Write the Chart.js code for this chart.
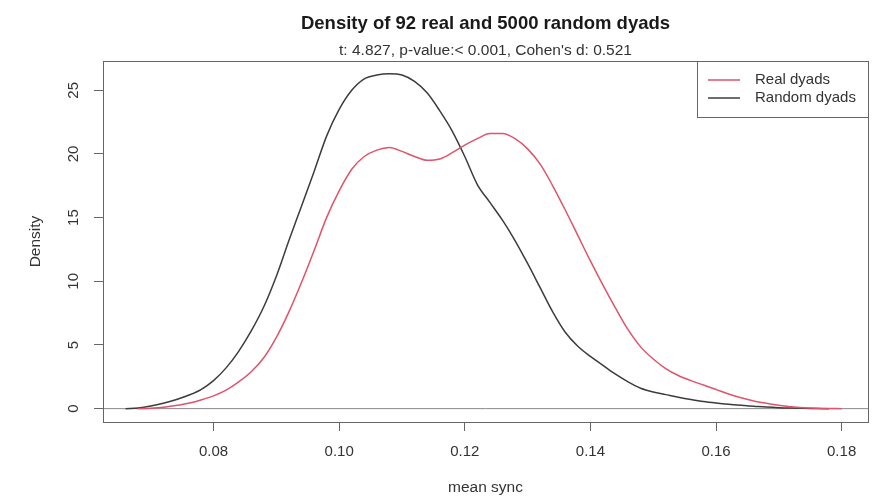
<!DOCTYPE html>
<html>
<head>
<meta charset="utf-8">
<title>Density of 92 real and 5000 random dyads</title>
<script src="https://cdn.jsdelivr.net/npm/chart.js@4.4.1/dist/chart.umd.min.js"></script>
<style>
    html, body { margin: 0; padding: 0; background: #fff; }
    canvas { display: block; }
</style>
</head>
<body>
<canvas id="densityChart" width="878" height="497"></canvas>
<script>
// Texts
const chartTitle = 'Density of 92 real and 5000 random dyads';
const chartSubtitle = "t: 4.827, p-value:< 0.001, Cohen's d: 0.521";
const xAxisTitle = 'mean sync';
const yAxisTitle = 'Density';
const seriesNames = ['Real dyads', 'Random dyads'];

// Axis limits and ticks (R style, 4% padding)
const xMin = 0.0624, xMax = 0.1842, xStep = 0.02;
const yMin = -1.05, yMax = 27.3, yStep = 5;

// mean sync grid
const syncGrid = [
    0.066, 0.068, 0.070, 0.072, 0.074, 0.076, 0.078, 0.080, 0.082, 0.084,
    0.086, 0.088, 0.090, 0.092, 0.094, 0.096, 0.098, 0.100, 0.102, 0.104,
    0.106, 0.108, 0.110, 0.112, 0.114, 0.116, 0.118, 0.120, 0.122, 0.124,
    0.126, 0.128, 0.130, 0.132, 0.134, 0.136, 0.138, 0.140, 0.142, 0.144,
    0.146, 0.148, 0.150, 0.152, 0.154, 0.156, 0.158, 0.160, 0.162, 0.164,
    0.166, 0.168, 0.170, 0.172, 0.174, 0.176, 0.178, 0.180
];

// Density of the 92 real dyads
const realDensity = [
    null, 0, 0.03, 0.1, 0.24, 0.42, 0.68, 1.0, 1.45, 2.1,
    2.9, 4.0, 5.6, 7.6, 9.9, 12.4, 15.0, 17.1, 18.8, 19.8,
    20.3, 20.5, 20.2, 19.8, 19.5, 19.6, 20.1, 20.7, 21.2, 21.6,
    21.6, 21.2, 20.4, 19.2, 17.5, 15.6, 13.6, 11.6, 9.7, 7.9,
    6.2, 4.85, 3.9, 3.15, 2.6, 2.2, 1.85, 1.5, 1.15, 0.85,
    0.6, 0.42, 0.27, 0.14, 0.07, 0.03, 0.01, 0
];

// Density of the 5000 random dyads
const randomDensity = [
    0, 0.05, 0.2, 0.42, 0.7, 1.05, 1.5, 2.2, 3.2, 4.5,
    6.1, 8.0, 10.4, 13.2, 15.9, 18.6, 21.4, 23.5, 25.0, 25.9,
    26.2, 26.3, 26.2, 25.7, 24.8, 23.4, 21.8, 19.8, 17.6, 16.2,
    14.8, 13.2, 11.4, 9.5, 7.6, 6.0, 4.9, 4.1, 3.4, 2.7,
    2.1, 1.6, 1.3, 1.1, 0.9, 0.72, 0.56, 0.44, 0.34, 0.26,
    0.19, 0.12, 0.07, 0.04, 0.02, 0.01, 0, null
];

const seriesColors = ['#df536b', '#3c3c3c'];
const fontFamily = '"Liberation Sans", Arial, Helvetica, sans-serif';
const textColor = '#333';
const frameColor = '#666';

function toPoints(values) {
    return syncGrid.map((x, i) => ({ x: x, y: values[i] }));
}

// R-like frame, titles, y labels and legend
const rPlotPlugin = {
    id: 'rPlot',
    beforeDatasetsDraw(chart) {
        const { ctx, chartArea: a, scales: { y } } = chart;
        const y0 = y.getPixelForValue(0);
        ctx.save();
        ctx.strokeStyle = '#888';
        ctx.lineWidth = 1;
        ctx.beginPath();
        ctx.moveTo(a.left, y0);
        ctx.lineTo(a.right, y0);
        ctx.stroke();
        ctx.restore();
    },
    afterDraw(chart) {
        const { ctx, chartArea: a, scales: { y } } = chart;
        const midX = (a.left + a.right) / 2;
        ctx.save();

        // plot box
        ctx.strokeStyle = frameColor;
        ctx.lineWidth = 1;
        ctx.strokeRect(a.left + 0.5, a.top + 0.5, a.right - a.left, a.bottom - a.top);

        // titles
        ctx.fillStyle = '#1a1a1a';
        ctx.textAlign = 'center';
        ctx.textBaseline = 'alphabetic';
        ctx.font = 'bold 18.5px ' + fontFamily;
        ctx.fillText(chartTitle, midX, 29);
        ctx.fillStyle = textColor;
        ctx.font = '15.5px ' + fontFamily;
        ctx.fillText(chartSubtitle, midX, 55);

        // x axis title
        ctx.textBaseline = 'middle';
        ctx.fillText(xAxisTitle, midX, 488);

        // y tick labels, rotated like R
        ctx.font = '15px ' + fontFamily;
        y.ticks.forEach(t => {
            const py = y.getPixelForValue(t.value);
            ctx.save();
            ctx.translate(74, py);
            ctx.rotate(-Math.PI / 2);
            ctx.fillText(String(t.value), 0, 0);
            ctx.restore();
        });

        // y axis title
        ctx.font = '15.5px ' + fontFamily;
        ctx.save();
        ctx.translate(36, (a.top + a.bottom) / 2);
        ctx.rotate(-Math.PI / 2);
        ctx.fillText(yAxisTitle, 0, 0);
        ctx.restore();

        // legend
        const boxL = 697, boxT = a.top, boxR = a.right, boxB = 117;
        ctx.strokeStyle = frameColor;
        ctx.strokeRect(boxL + 0.5, boxT + 0.5, boxR - boxL, boxB - boxT);
        ctx.font = '15px ' + fontFamily;
        ctx.textAlign = 'left';
        chart.data.datasets.forEach((ds, i) => {
            const ly = 80 + i * 18;
            ctx.strokeStyle = ds.borderColor;
            ctx.lineWidth = 1.5;
            ctx.beginPath();
            ctx.moveTo(708, ly);
            ctx.lineTo(740, ly);
            ctx.stroke();
            ctx.fillStyle = textColor;
            ctx.fillText(ds.label, 755, ly);
        });
        ctx.restore();
    }
};

const ctx = document.getElementById('densityChart').getContext('2d');
new Chart(ctx, {
    type: 'line',
    data: {
        datasets: [{
            label: seriesNames[0],
            data: toPoints(realDensity),
            borderColor: seriesColors[0],
            borderWidth: 1.5,
            pointRadius: 0,
            cubicInterpolationMode: 'monotone',
            spanGaps: false
        }, {
            label: seriesNames[1],
            data: toPoints(randomDensity),
            borderColor: seriesColors[1],
            borderWidth: 1.5,
            pointRadius: 0,
            cubicInterpolationMode: 'monotone',
            spanGaps: false
        }]
    },
    options: {
        responsive: false,
        devicePixelRatio: 1,
        animation: false,
        layout: {
            padding: { left: 0, top: 61, right: 10, bottom: 0 }
        },
        plugins: {
            legend: { display: false },
            title: { display: false },
            tooltip: { enabled: false }
        },
        scales: {
            x: {
                type: 'linear',
                min: xMin,
                max: xMax,
                afterFit: scale => { scale.height = 75; },
                border: { display: false },
                grid: {
                    drawOnChartArea: false,
                    drawTicks: true,
                    tickLength: 9,
                    color: frameColor
                },
                ticks: {
                    stepSize: xStep,
                    includeBounds: false,
                    padding: 12,
                    maxRotation: 0,
                    autoSkip: false,
                    color: textColor,
                    font: { family: fontFamily, size: 15 },
                    callback: value => value.toFixed(2)
                }
            },
            y: {
                type: 'linear',
                min: yMin,
                max: yMax,
                afterFit: scale => { scale.width = 103; },
                border: { display: false },
                grid: {
                    drawOnChartArea: false,
                    drawTicks: true,
                    tickLength: 9,
                    color: frameColor
                },
                ticks: {
                    stepSize: yStep,
                    includeBounds: false,
                    display: false
                }
            }
        }
    },
    plugins: [rPlotPlugin]
});
</script>
</body>
</html>
